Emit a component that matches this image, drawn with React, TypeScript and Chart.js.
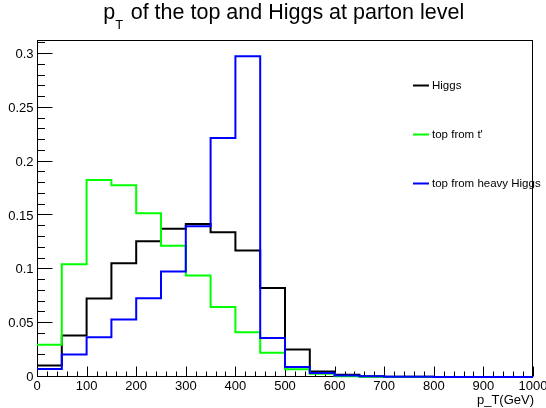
import React, { useEffect, useRef } from "react";
import { Chart, registerables } from "chart.js";

Chart.register(...registerables);

// ---- data ----
const binEdges = [0, 50, 100, 150, 200, 250, 300, 350, 400, 450, 500, 550, 600, 650, 700, 750, 800, 850, 900, 950, 1000];
const higgs = [0.0106, 0.0385, 0.0728, 0.1057, 0.126, 0.1376, 0.142, 0.1345, 0.1175, 0.0827, 0.0256, 0.0052, 0.0021, 0.0008, 0.0003, 0.0002, 0.0001, 0, 0, 0];
const topFromTprime = [0.030, 0.1047, 0.183, 0.178, 0.152, 0.1218, 0.0942, 0.065, 0.0415, 0.0225, 0.0072, 0.003, 0.0006, 0.0002, 0.0001, 0, 0, 0, 0, 0];
const topFromHeavyHiggs = [0.0074, 0.021, 0.0369, 0.0533, 0.0731, 0.098, 0.140, 0.222, 0.298, 0.0363, 0.0093, 0.0037, 0.0015, 0.0006, 0.0003, 0.0002, 0.0001, 0.0001, 0, 0];

const seriesNames = ["Higgs", "top from t'", "top from heavy Higgs"];
const seriesColors = ["#000000", "#00ff00", "#0000ff"];

const xTickValues = [0, 100, 200, 300, 400, 500, 600, 700, 800, 900, 1000];
const xTickLabels = ["0", "100", "200", "300", "400", "500", "600", "700", "800", "900", "1000"];
const yTickValues = [0, 0.05, 0.1, 0.15, 0.2, 0.25, 0.3];
const yTickLabels = ["0", "0.05", "0.1", "0.15", "0.2", "0.25", "0.3"];
const xMinorStep = 20;
const yMinorStep = 0.01;
const xMax = 1000;
const yMax = 0.313;

const titleMain = "p";
const titleSub = "T";
const titleRest = " of the top and Higgs at parton level";
const xAxisTitle = "p_T(GeV)";

const FONT = "'Liberation Sans', Arial, Helvetica, sans-serif";

function toSteps(values: number[]) {
  return binEdges.map((x, i) => ({ x, y: i < values.length ? values[i] : values[values.length - 1] }));
}

const rootStylePlugin = {
  id: "rootStyle",
  beforeDatasetsDraw(chart: any) {
    const ctx = chart.ctx as CanvasRenderingContext2D;
    const { left, right, top, bottom } = chart.chartArea;
    const xs = chart.scales.x;
    const ys = chart.scales.y;
    ctx.save();

    // frame
    ctx.strokeStyle = "#000";
    ctx.lineWidth = 1;
    ctx.strokeRect(Math.round(left) + 0.5, Math.round(top) + 0.5, Math.round(right - left) - 1, Math.round(bottom - top) - 1);
    const fx = Math.round(left) + 0.5;
    const fy = Math.round(bottom) - 0.5;

    // y ticks
    ctx.beginPath();
    for (let v = 0; v <= yMax + 1e-9; v += yMinorStep) {
      const p = Math.round(ys.getPixelForValue(v)) - 0.5;
      const major = yTickValues.some((t) => Math.abs(t - v) < 1e-6);
      ctx.moveTo(fx, p);
      ctx.lineTo(fx + (major ? 15 : 7.5), p);
    }
    // x ticks
    for (let v = 0; v <= xMax + 1e-9; v += xMinorStep) {
      const p = Math.round(xs.getPixelForValue(v)) + 0.5;
      const major = xTickValues.some((t) => Math.abs(t - v) < 1e-6);
      ctx.moveTo(p, fy);
      ctx.lineTo(p, fy - (major ? 10 : 5));
    }
    ctx.stroke();
    ctx.restore();
  },
  afterDraw(chart: any) {
    const ctx = chart.ctx as CanvasRenderingContext2D;
    const { left, right, bottom } = chart.chartArea;
    const xs = chart.scales.x;
    const ys = chart.scales.y;
    ctx.save();

    // tick labels
    ctx.fillStyle = "#000";
    ctx.font = `13px ${FONT}`;
    ctx.textAlign = "right";
    ctx.textBaseline = "middle";
    yTickValues.forEach((v, i) => {
      ctx.fillText(yTickLabels[i], left - 3.5, ys.getPixelForValue(v) + 0.5);
    });
    ctx.textAlign = "center";
    xTickValues.forEach((v, i) => {
      ctx.fillText(xTickLabels[i], xs.getPixelForValue(v), bottom + 9.5);
    });

    // axis title
    ctx.textAlign = "right";
    ctx.fillText(xAxisTitle, right + 1, bottom + 23.5);

    // title
    ctx.textAlign = "left";
    ctx.textBaseline = "alphabetic";
    const mainFont = `21.5px ${FONT}`;
    const subFont = `13px ${FONT}`;
    ctx.font = mainFont;
    const wMain = ctx.measureText(titleMain).width;
    const wRest = ctx.measureText(titleRest).width;
    ctx.font = subFont;
    const wSub = ctx.measureText(titleSub).width;
    const total = wMain + wSub + wRest;
    let tx = 283 - total / 2;
    ctx.font = mainFont;
    ctx.fillText(titleMain, tx, 18.5);
    tx += wMain;
    ctx.font = subFont;
    ctx.fillText(titleSub, tx, 28.5);
    tx += wSub + 1.5;
    ctx.font = mainFont;
    ctx.fillText(titleRest, tx, 18.5);

    // legend
    const legendY = [85.5, 134.5, 183.5];
    ctx.font = `11.5px ${FONT}`;
    ctx.textBaseline = "middle";
    seriesNames.forEach((name, i) => {
      ctx.strokeStyle = seriesColors[i];
      ctx.lineWidth = 2;
      ctx.beginPath();
      ctx.moveTo(413, legendY[i]);
      ctx.lineTo(429, legendY[i]);
      ctx.stroke();
      ctx.fillStyle = "#000";
      ctx.fillText(name, 432, legendY[i] + 0.5);
    });

    ctx.restore();
  },
};

export default function App() {
  const canvasRef = useRef<HTMLCanvasElement | null>(null);

  useEffect(() => {
    if (!canvasRef.current) return;
    const seriesValues = [higgs, topFromTprime, topFromHeavyHiggs];
    const drawOrder = [2, 1, 0];
    const chart = new Chart(canvasRef.current, {
      type: "line",
      data: {
        datasets: seriesValues.map((vals, i) => ({
          label: seriesNames[i],
          data: toSteps(vals),
          borderColor: seriesColors[i],
          backgroundColor: seriesColors[i],
          borderWidth: 2,
          pointRadius: 0,
          fill: false,
          stepped: "before" as const,
          order: drawOrder[i],
          clip: 2,
        })),
      },
      options: {
        responsive: false,
        maintainAspectRatio: false,
        animation: false,
        layout: { padding: { top: 40, right: 13, left: 0, bottom: 0 } },
        plugins: {
          legend: { display: false },
          title: { display: false },
          tooltip: { enabled: false },
        },
        scales: {
          x: {
            type: "linear",
            min: 0,
            max: xMax,
            grid: { display: false },
            border: { display: false },
            ticks: { display: false },
            afterBuildTicks: (s: any) => {
              s.ticks = xTickValues.map((v) => ({ value: v }));
            },
            afterFit: (s: any) => {
              s.height = 31;
            },
          },
          y: {
            type: "linear",
            min: 0,
            max: yMax,
            grid: { display: false },
            border: { display: false },
            ticks: { display: false },
            afterBuildTicks: (s: any) => {
              s.ticks = yTickValues.map((v) => ({ value: v }));
            },
            afterFit: (s: any) => {
              s.width = 37;
            },
          },
        },
      } as any,
      plugins: [rootStylePlugin],
    });
    return () => chart.destroy();
  }, []);

  return (
    <div style={{ position: "absolute", left: 0, top: 0, width: 546, height: 408, background: "#fff" }}>
      <canvas ref={canvasRef} width={546} height={408} />
    </div>
  );
}
